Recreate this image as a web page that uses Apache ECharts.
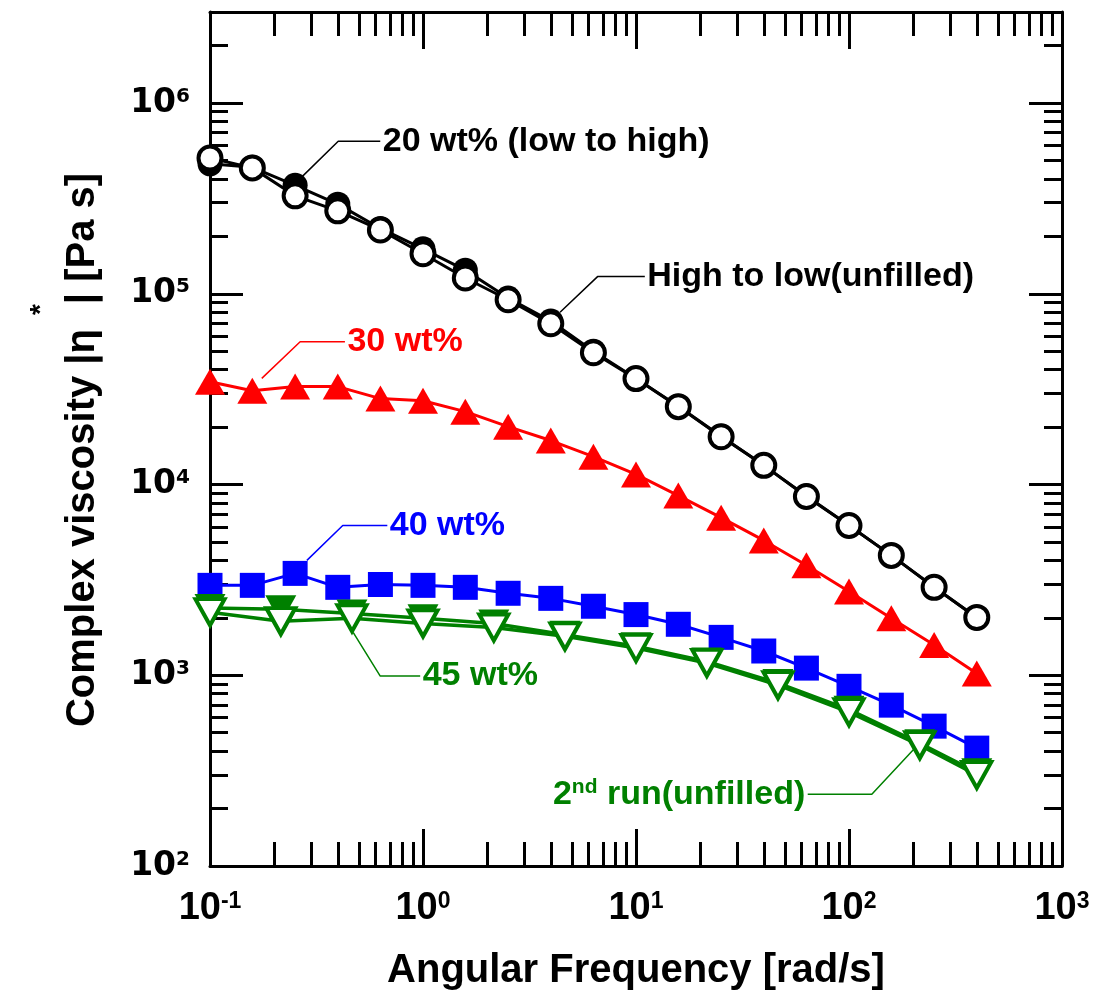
<!DOCTYPE html>
<html>
<head>
<meta charset="utf-8">
<script src="https://cdn.jsdelivr.net/npm/echarts@6/dist/echarts.min.js"></script>
<style>
  html, body { margin: 0; padding: 0; background: #fff; }
  #chart { width: 1096px; height: 1005px; }
</style>
</head>
<body>
<div id="chart"></div>
<script>
// Angular frequency sweeps (rad/s): 5 points per decade and 3 points per decade
const freq5 = [0.1, 0.158, 0.251, 0.398, 0.631, 1, 1.58, 2.51, 3.98, 6.31, 10, 15.8, 25.1, 39.8, 63.1, 100, 158, 251, 398];
const freq3 = [0.1, 0.215, 0.464, 1, 2.15, 4.64, 10, 21.5, 46.4, 100, 215, 398];

// Complex viscosity |eta*| (Pa s)
const eta20LowToHigh = [4.8e5, 4.6e5, 3.7e5, 2.95e5, 2.2e5, 1.72e5, 1.33e5, 9.5e4, 7.2e4, 5.0e4, 3.6e4, 2.57e4, 1.79e4, 1.26e4, 8.7e3, 6.1e3, 4.25e3, 2.9e3, 2.0e3];
const eta20HighToLow = [5.15e5, 4.57e5, 3.26e5, 2.72e5, 2.16e5, 1.62e5, 1.21e5, 9.3e4, 6.97e4, 4.91e4, 3.59e4, 2.56e4, 1.78e4, 1.26e4, 8.65e3, 6.1e3, 4.25e3, 2.89e3, 2.01e3];
const eta30 = [3.46e4, 3.10e4, 3.26e4, 3.26e4, 2.82e4, 2.75e4, 2.41e4, 2.01e4, 1.70e4, 1.40e4, 1.13e4, 8.75e3, 6.7e3, 5.09e3, 3.77e3, 2.75e3, 1.99e3, 1.44e3, 1.02e3];
const eta40 = [2.96e3, 2.96e3, 3.42e3, 2.89e3, 2.99e3, 2.96e3, 2.89e3, 2.69e3, 2.53e3, 2.30e3, 2.08e3, 1.85e3, 1.58e3, 1.34e3, 1.09e3, 875, 697, 541, 415];
const eta45Run1 = [2.25e3, 2.22e3, 2.11e3, 1.99e3, 1.87e3, 1.63e3, 1.42e3, 1.18e3, 910, 660, 440, 310];
const eta45Run2 = [2.14e3, 1.92e3, 1.99e3, 1.87e3, 1.78e3, 1.60e3, 1.39e3, 1.16e3, 887, 640, 430, 300];

// Axis ranges and tick values
const xMin = 0.1, xMax = 1000;
const yMin = 100, yMax = 3e6;
const xMajorTicks = [0.1, 1, 10, 100, 1000];
const yMajorTicks = [100, 1e3, 1e4, 1e5, 1e6];
const minorSteps = [2, 3, 4, 5, 6, 7, 8, 9];
const xMinorTicks = [];
[0.1, 1, 10, 100].forEach(d => minorSteps.forEach(k => xMinorTicks.push(+(d * k).toPrecision(3))));
const yMinorTicks = [];
[100, 1e3, 1e4, 1e5].forEach(d => minorSteps.forEach(k => yMinorTicks.push(d * k)));
yMinorTicks.push(2e6);

// Annotation leaders (data coordinates): text anchor, elbow, end at the marker
const leader20 = [[0.63, 6.3e5], [0.40, 6.3e5], [0.27, 4.1e5]];
const leaderHighLow = [[11, 1.23e5], [6.6, 1.23e5], [4.4, 8.0e4]];
const leader30 = [[0.43, 5.6e4], [0.265, 5.6e4], [0.175, 3.6e4]];
const leader40 = [[0.68, 6.1e3], [0.42, 6.1e3], [0.285, 4.0e3]];
const leader45 = [[0.97, 990], [0.63, 990], [0.47, 1.68e3]];
const leaderRun2 = [[64, 238], [128, 238], [204, 415]];

const BLACK = '#000000', RED = '#ff0000', BLUE = '#0000ff', GREEN = '#008000';
const SANS = "'Liberation Sans', Arial, sans-serif";
const WIDE = "'DejaVu Sans', sans-serif";

const notes = [
  { text: '20 wt% (low to high)', color: BLACK, leader: leader20, side: 'right' },
  { text: 'High to low(unfilled)', color: BLACK, leader: leaderHighLow, side: 'right' },
  { text: '30 wt%', color: RED, leader: leader30, side: 'right' },
  { text: '40 wt%', color: BLUE, leader: leader40, side: 'right' },
  { text: '45 wt%', color: GREEN, leader: leader45, side: 'right' },
  { text: '{m|2}{s|nd}{m| run(unfilled)}', color: GREEN, leader: leaderRun2, side: 'left' }
];

const pairs = (xs, ys) => xs.map((x, i) => [x, ys[i]]);
const powerLabel = v => '{b|10}{s|' + Math.round(Math.log10(v)) + '}';

function frameAxis(kind, position, ticks, length, withLine) {
  const isX = kind === 'x';
  return {
    type: 'log',
    logBase: 10,
    min: isX ? xMin : yMin,
    max: isX ? xMax : yMax,
    position: position,
    axisLine: { show: withLine, onZero: false, lineStyle: { color: BLACK, width: 3 } },
    axisTick: { show: true, inside: true, length: length, customValues: ticks, lineStyle: { color: BLACK, width: 3 } },
    axisLabel: { show: false },
    splitLine: { show: false },
    minorTick: { show: false },
    axisPointer: { show: false }
  };
}

const xMain = frameAxis('x', 'bottom', xMajorTicks, 37, true);
Object.assign(xMain, {
  axisLabel: {
    show: true,
    customValues: xMajorTicks,
    margin: 24,
    formatter: powerLabel,
    rich: {
      b: { fontSize: 38, fontWeight: 'bold', fontFamily: SANS, color: BLACK, lineHeight: 38, verticalAlign: 'bottom' },
      s: { fontSize: 23, fontWeight: 'bold', fontFamily: SANS, color: BLACK, lineHeight: 23, verticalAlign: 'top' }
    }
  },
  name: 'Angular Frequency [rad/s]',
  nameLocation: 'middle',
  nameGap: 85,
  nameTextStyle: { fontSize: 40, fontWeight: 'bold', fontFamily: SANS, color: BLACK, lineHeight: 40 }
});

const yMain = frameAxis('y', 'left', yMajorTicks, 33, true);
Object.assign(yMain, {
  axisLabel: {
    show: true,
    customValues: yMajorTicks,
    margin: 20,
    formatter: powerLabel,
    rich: {
      b: { fontSize: 33, fontWeight: 'bold', fontFamily: WIDE, color: BLACK, lineHeight: 33, verticalAlign: 'bottom' },
      s: { fontSize: 20, fontWeight: 'bold', fontFamily: WIDE, color: BLACK, lineHeight: 20, verticalAlign: 'top' }
    }
  },
  name: '{t|Complex viscosity |η}{s|*}{t|| [Pa s]}',
  nameLocation: 'middle',
  nameRotate: 90,
  nameGap: 107,
  nameTextStyle: {
    padding: [0, 22, 0, 0],
    rich: {
      t: { fontSize: 40, fontWeight: 'bold', fontFamily: SANS, color: BLACK, lineHeight: 76, verticalAlign: 'bottom' },
      s: { fontSize: 28, fontWeight: 'bold', fontFamily: SANS, color: BLACK, lineHeight: 28, padding: [0, 0, 0, 14], verticalAlign: 'top' }
    }
  }
});

function dataSeries(name, xs, ys, opts) {
  return Object.assign({
    name: name,
    type: 'line',
    data: pairs(xs, ys),
    xAxisIndex: 0,
    yAxisIndex: 0,
    showSymbol: true,
    silent: true,
    z: 3,
    emphasis: { disabled: true }
  }, opts);
}

const leaderSeries = notes.map(n => ({
  type: 'line',
  data: n.leader,
  xAxisIndex: 0,
  yAxisIndex: 0,
  symbol: 'none',
  silent: true,
  z: 2,
  lineStyle: { color: n.color, width: 1.5 },
  emphasis: { disabled: true }
}));

const labelSeries = {
  type: 'scatter',
  xAxisIndex: 0,
  yAxisIndex: 0,
  silent: true,
  z: 6,
  symbolSize: 1,
  itemStyle: { color: 'transparent', opacity: 1 },
  emphasis: { disabled: true },
  data: notes.map(n => ({
    value: n.leader[0],
    label: {
      show: true,
      position: n.side,
      distance: 2,
      opacity: 1,
      formatter: n.text,
      color: n.color,
      fontSize: 34,
      fontWeight: 'bold',
      fontFamily: SANS,
      rich: {
        m: { fontSize: 34, fontWeight: 'bold', fontFamily: SANS, color: n.color, lineHeight: 34, verticalAlign: 'bottom' },
        s: { fontSize: 21, fontWeight: 'bold', fontFamily: SANS, color: n.color, lineHeight: 21, padding: [0, 0, 8, 0], verticalAlign: 'top' }
      }
    }
  }))
};

const option = {
  animation: false,
  backgroundColor: '#ffffff',
  textStyle: { fontFamily: SANS },
  grid: { left: 210, right: 34, top: 12, bottom: 139, containLabel: false },
  xAxis: [
    xMain,
    frameAxis('x', 'bottom', xMinorTicks, 24, false),
    frameAxis('x', 'top', xMajorTicks, 37, true),
    frameAxis('x', 'top', xMinorTicks, 24, false)
  ],
  yAxis: [
    yMain,
    frameAxis('y', 'left', yMinorTicks, 18, false),
    frameAxis('y', 'right', yMajorTicks, 33, true),
    frameAxis('y', 'right', yMinorTicks, 18, false)
  ],
  series: [
    ...leaderSeries,
    dataSeries('20 wt% low to high', freq5, eta20LowToHigh, {
      symbol: 'circle', symbolSize: 25,
      itemStyle: { color: BLACK },
      lineStyle: { color: BLACK, width: 3 }
    }),
    dataSeries('20 wt% high to low', freq5, eta20HighToLow, {
      symbol: 'circle', symbolSize: 23,
      itemStyle: { color: '#ffffff', borderColor: BLACK, borderWidth: 4 },
      lineStyle: { color: BLACK, width: 3 }
    }),
    dataSeries('30 wt%', freq5, eta30, {
      symbol: 'triangle', symbolSize: [30, 26],
      itemStyle: { color: RED },
      lineStyle: { color: RED, width: 3 }
    }),
    dataSeries('40 wt%', freq5, eta40, {
      symbol: 'rect', symbolSize: 25,
      itemStyle: { color: BLUE },
      lineStyle: { color: BLUE, width: 3 }
    }),
    dataSeries('45 wt% run 1', freq3, eta45Run1, {
      symbol: 'triangle', symbolRotate: 180, symbolSize: [31, 28],
      itemStyle: { color: GREEN },
      lineStyle: { color: GREEN, width: 3.5 }
    }),
    dataSeries('45 wt% run 2', freq3, eta45Run2, {
      symbol: 'triangle', symbolRotate: 180, symbolSize: [29, 26],
      itemStyle: { color: '#ffffff', borderColor: GREEN, borderWidth: 4 },
      lineStyle: { color: GREEN, width: 3.5 }
    }),
    labelSeries
  ]
};

const chart = echarts.init(document.getElementById('chart'), null, { renderer: 'canvas' });
chart.setOption(option);
</script>
</body>
</html>
